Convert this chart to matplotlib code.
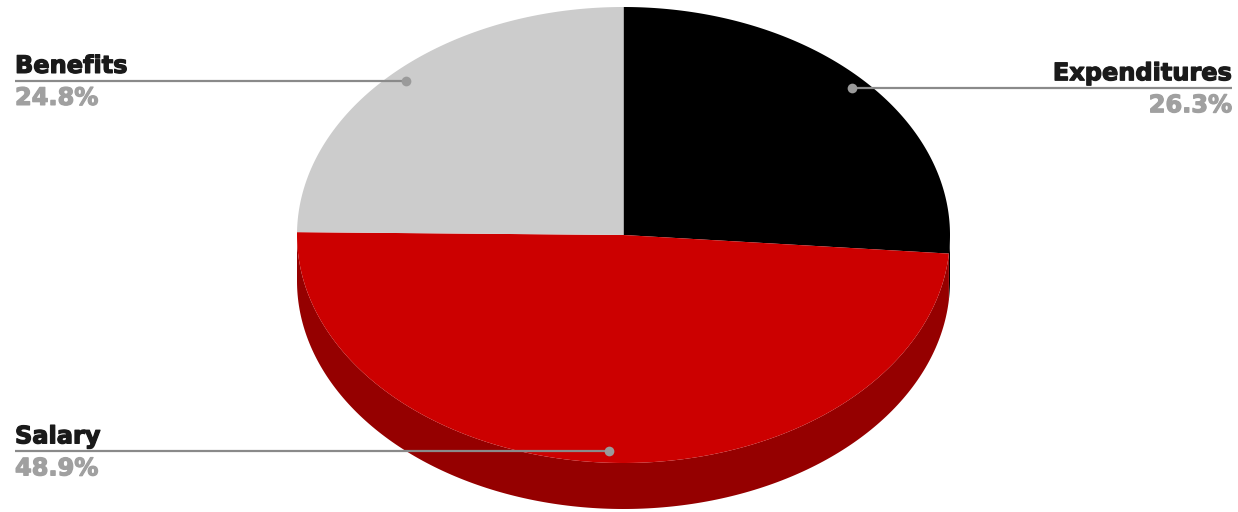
import numpy as np
import matplotlib.pyplot as plt
import matplotlib.patheffects as pe
from matplotlib.patches import Polygon

# data
labels = ['Expenditures', 'Salary', 'Benefits']
shares = [26.3, 48.9, 24.8]
top_colors = ['#000000', '#cc0000', '#cccccc']
side_colors = ['#000000', '#950000', '#a0a0a0']

# pie geometry in pixels (axes spans the whole canvas)
cx, cy = 623.5, 235.0
rx, ry = 326.5, 228.0
depth = 46.0

fig = plt.figure(figsize=(12.38, 5.12), dpi=100)
ax = fig.add_axes([0, 0, 1, 1])
ax.set_xlim(0, 1238)
ax.set_ylim(512, 0)
ax.axis('off')


def pt(t, f=1.0, dy=0.0):
    r = np.radians(t)
    return cx + rx * f * np.cos(r), cy - ry * f * np.sin(r) + dy


# slices go clockwise from 12 o'clock
angles = []
start = 90.0
for s in shares:
    end = start - s / 100.0 * 360.0
    angles.append((start, end))
    start = end

# side walls (front half only: angles in (-180, 0))
for (a0, a1), col in zip(angles, side_colors):
    hi = min(a0, 0.0)
    lo = max(a1, -180.0)
    if hi <= lo:
        continue
    t = np.linspace(hi, lo, 200)
    x, y = pt(t)
    xs = np.concatenate([x, x[::-1]])
    ys = np.concatenate([y, y[::-1] + depth])
    ax.add_patch(Polygon(np.column_stack([xs, ys]), closed=True,
                         facecolor=col, edgecolor='none', zorder=1))

# top faces
for (a0, a1), col in zip(angles, top_colors):
    t = np.linspace(a0, a1, 300)
    x, y = pt(t)
    xs = np.concatenate([[cx], x])
    ys = np.concatenate([[cy], y])
    ax.add_patch(Polygon(np.column_stack([xs, ys]), closed=True,
                         facecolor=col, edgecolor='none', zorder=2))

# labels with leader lines
font = dict(family='DejaVu Sans', weight='bold', fontsize=17.3)
for (a0, a1), name, s in zip(angles, labels, shares):
    mid = (a0 + a1) / 2.0
    dx, dy = pt(mid, 0.95)
    pct = '%.1f%%' % s
    if dx > cx and dy < cy:
        x_end, ha = 1232, 'right'
    else:
        x_end, ha = 15, 'left'
    ax.plot([x_end, dx], [dy, dy], color='#8a8a8a', lw=1.6, zorder=3,
            solid_capstyle='butt')
    ax.plot(dx, dy, 'o', color='#9a9a9a', ms=7, zorder=4, mec='none')
    t1 = ax.text(x_end, dy - 8, name, ha=ha, va='baseline', color='#1a1a1a',
                 zorder=5, **font)
    t2 = ax.text(x_end, dy + 5, pct, ha=ha, va='top', color='#a0a0a0',
                 zorder=5, **font)
    t1.set_path_effects([pe.withStroke(linewidth=0.9, foreground='#1a1a1a')])
    t2.set_path_effects([pe.withStroke(linewidth=0.9, foreground='#a0a0a0')])

fig.savefig('out.png', dpi=100)
